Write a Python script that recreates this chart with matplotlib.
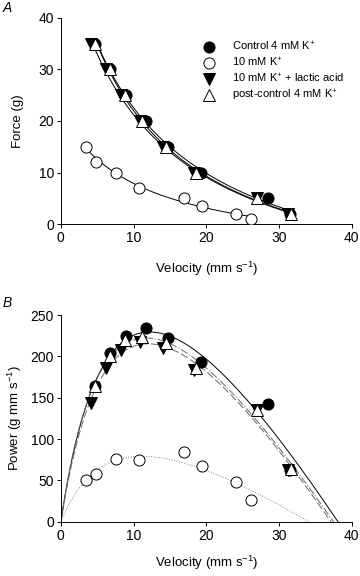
import numpy as np
import matplotlib
matplotlib.use("Agg")
import matplotlib.pyplot as plt

plt.rcParams['font.family'] = ['Liberation Sans', 'DejaVu Sans']
plt.rcParams['mathtext.fontset'] = 'custom'
plt.rcParams['mathtext.rm'] = 'Liberation Sans'

# force-velocity data (velocity in mm/s, force in g)
ctrl_v = [4.7, 6.8, 9.0, 11.7, 14.8, 19.3, 28.5, 31.5]
ctrl_f = [35, 30, 25, 20, 15, 10, 5, 2]
k10_v = [3.4, 4.8, 7.6, 10.7, 17.0, 19.4, 24.1, 26.2]
k10_f = [15, 12, 10, 7, 5, 3.5, 2, 1]
lac_v = [4.1, 6.2, 8.3, 10.9, 14.0, 18.3, 27.0, 31.2]
lac_f = [35, 30, 25, 20, 15, 10, 5, 2]
post_v = [4.7, 6.7, 8.8, 11.2, 14.4, 18.6, 27.0, 31.7]
post_f = [35, 30, 25, 20, 15, 10, 5, 2]

labels = [r'Control 4 mM K$^{+}$', r'10 mM K$^{+}$',
          r'10 mM K$^{+}$ + lactic acid', r'post-control 4 mM K$^{+}$']


def hill_fit(v, f):
    # linearised Hill: F*v = -a*v - b*F + k
    A = np.column_stack([-v, -f, np.ones_like(v)])
    a, b, k = np.linalg.lstsq(A, f * v, rcond=None)[0]
    return a, b, k


def hill_force(v, a, b, k):
    return (k - a * v) / (v + b)


fig = plt.figure(figsize=(3.6, 5.76), dpi=100)
axA = fig.add_axes([0.169, 0.611, 0.808, 0.358])
axB = fig.add_axes([0.169, 0.094, 0.808, 0.359])

groups = [
    (ctrl_v, ctrl_f, 'o', 'black', '-', 'black'),
    (k10_v, k10_f, 'o', 'white', ':', 'gray'),
    (lac_v, lac_f, 'v', 'black', (0, (8, 3)), 'dimgray'),
    (post_v, post_f, '^', 'white', (0, (8, 2, 1, 2)), 'dimgray'),
]

for (v, f, m, fc, ls, lc), lab in zip(groups, labels):
    v = np.asarray(v, float)
    f = np.asarray(f, float)
    a, b, k = hill_fit(v, f)
    xs = np.linspace(v.min(), v.max(), 200)
    axA.plot(xs, hill_force(xs, a, b, k), color='black', lw=0.7, zorder=1)
    axA.plot(v, f, m, mfc=fc, mec='black', ms=8, mew=0.7, label=lab, zorder=3)

    # power curves in B from the same fit, 0 .. Vmax
    xs = np.linspace(0, k / a, 300)
    axB.plot(xs, xs * hill_force(xs, a, b, k), color=lc, ls=ls, lw=0.7, zorder=1)
    axB.plot(v, v * f, m, mfc=fc, mec='black', ms=8, mew=0.7, zorder=3)

for ax in (axA, axB):
    ax.spines['top'].set_visible(False)
    ax.spines['right'].set_visible(False)
    ax.spines['left'].set_linewidth(0.7)
    ax.spines['bottom'].set_linewidth(0.7)
    ax.tick_params(direction='out', length=3, width=0.7, labelsize=10, pad=2)
    ax.set_xlim(0, 40)
    ax.set_xticks([0, 10, 20, 30, 40])

axA.set_xlabel(r'Velocity (mm s$^{-1}$)', fontsize=9.5, labelpad=11)
axB.set_xlabel(r'Velocity (mm s$^{-1}$)', fontsize=9.5, labelpad=8)
axA.set_ylim(0, 40)
axA.set_yticks([0, 10, 20, 30, 40])
axA.set_ylabel('Force (g)', fontsize=9.5, labelpad=10)
axB.set_ylim(0, 250)
axB.set_yticks([0, 50, 100, 150, 200, 250])
axB.set_ylabel(r'Power (g mm s$^{-1}$)', fontsize=9.5, labelpad=5)

axA.legend(loc='upper left', bbox_to_anchor=(0.455, 0.915), frameon=False,
           fontsize=8, labelspacing=0.25, handletextpad=1.1, borderaxespad=0)

fig.text(0.008, 0.986, 'A', fontsize=10, style='italic', va='center')
fig.text(0.008, 0.474, 'B', fontsize=10, style='italic', va='center')

fig.savefig('out.png', dpi=100)
